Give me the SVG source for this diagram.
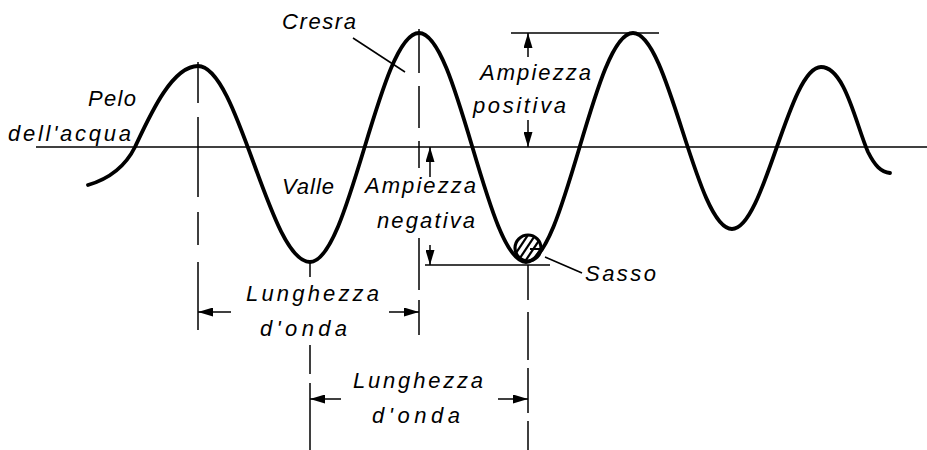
<svg xmlns="http://www.w3.org/2000/svg" width="927" height="450" viewBox="0 0 927 450">
<style>
.t{font-family:"Liberation Sans",Arial,sans-serif;font-style:italic;font-size:22px;fill:#000}
.thin{stroke:#000;stroke-width:1.5;fill:none}
.wave{stroke:#000;stroke-width:3.8;fill:none;stroke-linecap:round;stroke-linejoin:round}
.arr{stroke:#000;stroke-width:1.5;fill:none;marker-end:url(#ah)}
</style>
<defs>
<marker id="ah" markerWidth="15" markerHeight="9" refX="15" refY="4.5" orient="auto" markerUnits="userSpaceOnUse"><path d="M0,0 L15,4.5 L0,9 z" fill="#000"/></marker>
<clipPath id="stoneclip"><circle cx="528" cy="248" r="13"/></clipPath>
</defs>
<rect width="927" height="450" fill="#fff"/>

<g id="waterline"><line class="thin" x1="36" y1="147" x2="927" y2="147"/></g>

<g id="wave">
<path class="wave" d="M88,185 C112,178 126,165 135,147 C150,115 172,66 198,66 C238.8,66 269.2,262 310,262 C349.7,262 379.3,33 419,33 C458,33 487,262 526,262 C565,262 594,33 633,33 C669,33 696,229 732,229 C764.4,229 788.6,67 821,67 C845,67 856,125 868,152 C875,166 881,172 890,173"/>
</g>

<g id="stone">
<g clip-path="url(#stoneclip)" stroke="#000" stroke-width="2.2">
<line x1="510" y1="262" x2="530" y2="232"/>
<line x1="516" y1="264" x2="536" y2="234"/>
<line x1="522" y1="266" x2="542" y2="236"/>
<line x1="528" y1="268" x2="548" y2="238"/>
<line x1="530" y1="249" x2="542" y2="249"/>
</g>
<circle cx="528" cy="248" r="13" fill="none" stroke="#000" stroke-width="3.2"/>
</g>

<g id="guides" class="thin">
<path d="M198,62 V103 M198,117 V197 M198,212 V245 M198,262 V330"/>
<path d="M419,29 V73 M419,86 V128 M419,141 V168 M419,238 V290 M419,300 V335"/>
<path d="M310,262 V277 M310,345 V374 M310,383 V450"/>
<path d="M528,265 V300 M528,312 V360 M528,368 V413 M528,421 V450"/>
<line x1="511" y1="33" x2="659" y2="33"/>
<line x1="425" y1="265" x2="550" y2="265"/>
<line x1="353" y1="38" x2="405" y2="72"/>
<line x1="545" y1="257" x2="582" y2="273"/>
</g>

<g id="arrows">
<line class="arr" x1="231" y1="312" x2="198" y2="312"/>
<line class="arr" x1="389" y1="312" x2="419" y2="312"/>
<line class="arr" x1="341" y1="399" x2="310" y2="399"/>
<line class="arr" x1="498" y1="399" x2="528" y2="399"/>
<line class="arr" x1="528" y1="57" x2="528" y2="33"/>
<line class="arr" x1="528" y1="120" x2="528" y2="147"/>
<line class="arr" x1="430" y1="177" x2="430" y2="147"/>
<line class="arr" x1="430" y1="245" x2="430" y2="265"/>
</g>

<g id="labels">
<text class="t" x="282" y="29" textLength="74" lengthAdjust="spacing">Cresra</text>
<text class="t" x="88" y="106" textLength="48" lengthAdjust="spacing">Pelo</text>
<text class="t" x="8" y="141" textLength="123" lengthAdjust="spacing">dell'acqua</text>
<text class="t" x="282" y="194" textLength="52" lengthAdjust="spacing">Valle</text>
<text class="t" x="480" y="80" textLength="111" lengthAdjust="spacing">Ampiezza</text>
<text class="t" x="473" y="113" textLength="93" lengthAdjust="spacing">positiva</text>
<text class="t" x="365" y="193" textLength="111" lengthAdjust="spacing">Ampiezza</text>
<text class="t" x="377" y="228" textLength="98" lengthAdjust="spacing">negativa</text>
<text class="t" x="585" y="281" textLength="71" lengthAdjust="spacing">Sasso</text>
<text class="t" x="246" y="301" textLength="133" lengthAdjust="spacing">Lunghezza</text>
<text class="t" x="260" y="336" textLength="87" lengthAdjust="spacing">d'onda</text>
<text class="t" x="353" y="388" textLength="130" lengthAdjust="spacing">Lunghezza</text>
<text class="t" x="372" y="423" textLength="88" lengthAdjust="spacing">d'onda</text>
</g>
</svg>
